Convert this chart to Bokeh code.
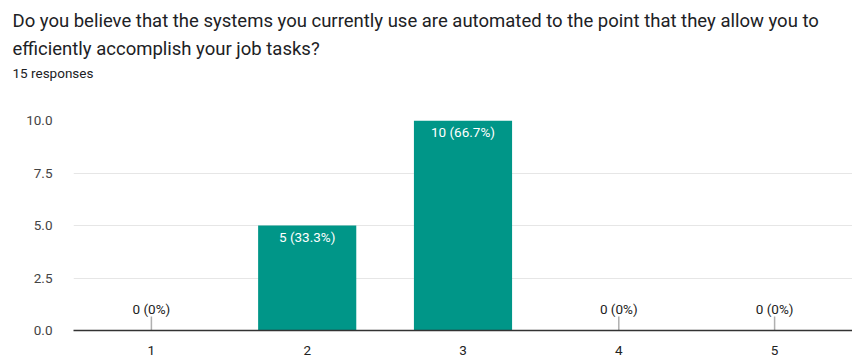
import math
from bokeh.plotting import figure
from bokeh.models import ColumnDataSource, Title, FixedTicker, FactorRange, Range1d, CustomJSTickFormatter
from bokeh.core.properties import value
from bokeh.embed import file_html
from bokeh.resources import INLINE

title_lines = ["Do you believe that the systems you currently use are automated to the point that they allow you to",
               "efficiently accomplish your job tasks?"]
subtitle = "15 responses"
categories = ["1", "2", "3", "4", "5"]
counts = [0, 5, 10, 0, 0]
percents = ["0%", "33.3%", "66.7%", "0%", "0%"]
y_ticks = [0, 2.5, 5, 7.5, 10]

FONT = "Roboto"
labels = [f"{c} ({pc})" for c, pc in zip(counts, percents)]

BORDER_L = 73

p = figure(width=852, height=357, x_range=FactorRange(*categories, range_padding=0),
           y_range=Range1d(0, 10), output_backend="svg", toolbar_location=None,
           min_border_left=BORDER_L, min_border_right=0, min_border_top=120, min_border_bottom=25)
p.outline_line_color = None
p.background_fill_color = "white"
p.border_fill_color = "white"

src = ColumnDataSource(dict(x=[c for c, v in zip(categories, counts) if v > 0],
                            top=[v for v in counts if v > 0],
                            lab=[l for l, v in zip(labels, counts) if v > 0]))
zsrc = ColumnDataSource(dict(x=[c for c, v in zip(categories, counts) if v == 0],
                             y=[v for v in counts if v == 0],
                             lab=[l for l, v in zip(labels, counts) if v == 0]))

p.vbar(x="x", top="top", bottom=0, width=0.63, source=src, fill_color="#009688", line_color=None)
p.ray(x="x", y="y", length=14, length_units="screen", angle=math.pi / 2, source=zsrc,
      line_color="#b0b0b0", line_width=1.5)
p.text(x="x", y="top", text="lab", source=src, text_color="white", text_font=value(FONT),
       text_font_size="13.5px", text_align="center", text_baseline="top", y_offset=3)
p.text(x="x", y="y", text="lab", source=zsrc, text_color="#222222", text_font=value(FONT),
       text_font_size="13.5px", text_align="center", text_baseline="bottom", y_offset=-14)

p.yaxis.ticker = FixedTicker(ticks=y_ticks)
p.yaxis.formatter = CustomJSTickFormatter(code="return tick.toFixed(1);")
p.yaxis.axis_line_color = None
p.yaxis.major_tick_line_color = None
p.yaxis.minor_tick_line_color = None
p.yaxis.major_label_standoff = 15
p.yaxis.major_label_text_font = FONT
p.yaxis.major_label_text_font_size = "13.5px"
p.yaxis.major_label_text_color = "#444444"

p.xaxis.axis_line_color = "#333333"
p.xaxis.axis_line_width = 1.5
p.xaxis.major_tick_line_color = None
p.xaxis.minor_tick_line_color = None
p.xaxis.major_label_standoff = 9
p.xaxis.major_label_text_font = FONT
p.xaxis.major_label_text_font_size = "13.5px"
p.xaxis.major_label_text_color = "#222222"

p.xgrid.grid_line_color = None
p.ygrid.ticker = FixedTicker(ticks=y_ticks)
p.ygrid.grid_line_color = "#e6e6e6"

# titles: the first added sits closest to the frame; a blank spacer keeps the gap
p.add_layout(Title(text=" ", align="left", standoff=36.5, text_font_size="1px"), "above")
p.add_layout(Title(text=subtitle, align="left", offset=12 - BORDER_L, standoff=0,
                   text_font=FONT, text_font_size="13.5px", text_font_style="normal",
                   text_color="#202124"), "above")
for line in reversed(title_lines):
    p.add_layout(Title(text=line, align="left", offset=12 - BORDER_L, standoff=4.4,
                       text_font=FONT, text_font_size="18.5px", text_font_style="normal",
                       text_color="#202124"), "above")

open("out.html", "w").write(file_html(p, INLINE))
